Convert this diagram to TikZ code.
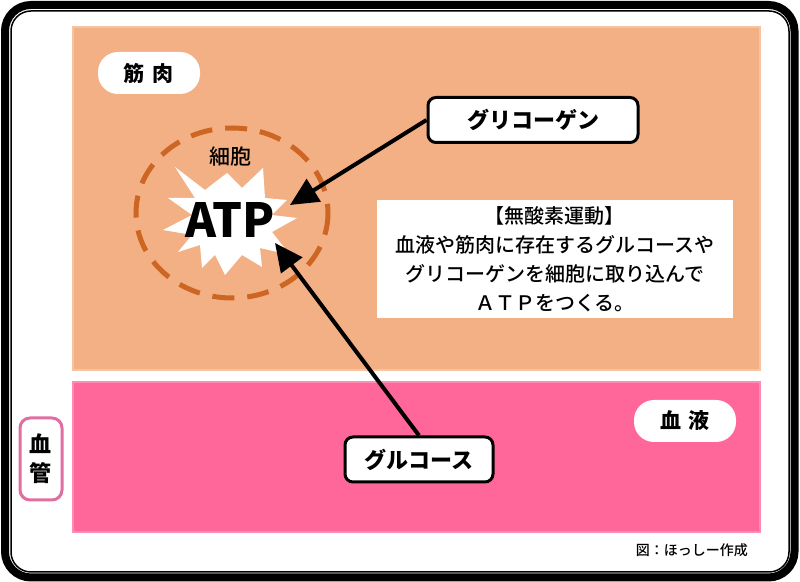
\documentclass[tikz,border=0pt]{standalone}
\usepackage{fontspec}
\setmainfont{Noto Sans CJK JP}
\newfontfamily\jpmed{Noto Sans CJK JP Medium}
\usepackage{xcolor}
\usetikzlibrary{arrows.meta,positioning,calc}
\definecolor{muscle}{RGB}{242,176,132}
\definecolor{blood}{RGB}{255,102,153}
\definecolor{cellc}{RGB}{204,102,34}
\definecolor{vessel}{RGB}{224,110,160}
\tikzset{
	tag/.style={fill=white, rounded corners=10pt, minimum height=21pt,
		minimum width=51pt, inner sep=0pt, font=\bfseries\fontsize{10.5}{12}\selectfont},
	namebox/.style={draw, line width=1.5pt, fill=white, rounded corners=4pt,
		minimum height=22.5pt, inner sep=0pt, font=\bfseries\fontsize{11}{13}\selectfont},
	desc/.style={fill=white, inner sep=0pt, minimum width=178pt, minimum height=59pt,
		align=center, font=\jpmed\fontsize{10}{14.5}\selectfont},
	vbox/.style={draw=vessel, line width=1.5pt, fill=white, rounded corners=5pt,
		minimum width=21pt, minimum height=41pt, inner sep=0pt, align=center,
		font=\bfseries\fontsize{11}{14.5}\selectfont},
	flow/.style={line width=2pt, -{Triangle[length=14pt, width=13pt]}},
}

\begin{document}
\begin{tikzpicture}[x=0.5pt, y=-0.5pt]
	\useasboundingbox (0,0) rectangle (800,582);
	\draw[line width=4pt, rounded corners=13pt] (5,5) rectangle (794.5,577.5);
	\draw[line width=0.75pt, rounded corners=10pt] (11,11) rectangle (789,572);
	\fill[muscle, draw=muscle!75!white, line width=1pt] (73,27) rectangle (760,370);
	\fill[blood, draw=blood!75!white, line width=1pt] (73,382) rectangle (760,532);
	\node[tag] (muscletag) at (149,73) {筋\hspace{4pt}肉};
	\node[tag] (bloodtag) at (685,421) {血\hspace{4pt}液};
	\node[vbox] (vessel) at (41,459) {血\\管};
	\draw[cellc, line width=2.5pt, dash pattern=on 11pt off 6.5pt] (232,213) ellipse [x radius=96, y radius=85];
	\fill[white, shift={(230,220)}] (-67,10) -- (-38,-5) -- (-62,-22) -- (-35,-22) -- (-55,-53)
		-- (-25,-30) -- (-3,-47) -- (12,-32) -- (33,-52) -- (35,-22) -- (57,-20) -- (42,-5)
		-- (67,-2) -- (42,12) -- (60,35) -- (30,28) -- (32,47) -- (12,35) -- (-5,55)
		-- (-15,35) -- (-28,48) -- (-30,25) -- (-52,32) -- (-38,15) -- cycle;
	\node[font=\jpmed\fontsize{10.5}{12}\selectfont] (cell) at (230,157) {細胞};
	\node[font=\bfseries\fontsize{23.5}{26}\selectfont] (atp) at (230,220) {ATP};
	\node[desc] (note) at (555,259) {【無酸素運動】\\血液や筋肉に存在するグルコースや\\グリコーゲンを細胞に取り込んで\\ＡＴＰをつくる。};
	\node[namebox, minimum width=105pt] (glyco) at (533,120) {グリコーゲン};
	\node[namebox, minimum width=74pt] (gluc) at (419,459.5) {グルコース};
	\coordinate (tipG) at (290,205);
	\coordinate (tipU) at (275,243);
	\draw[flow] (glyco.west) -- (tipG);
	\draw[flow] (gluc.north) -- (tipU);
	\node[anchor=east, font=\jpmed\fontsize{7}{8}\selectfont] (credit) at (755,550) {図：ほっしー作成};
\end{tikzpicture}
\end{document}
